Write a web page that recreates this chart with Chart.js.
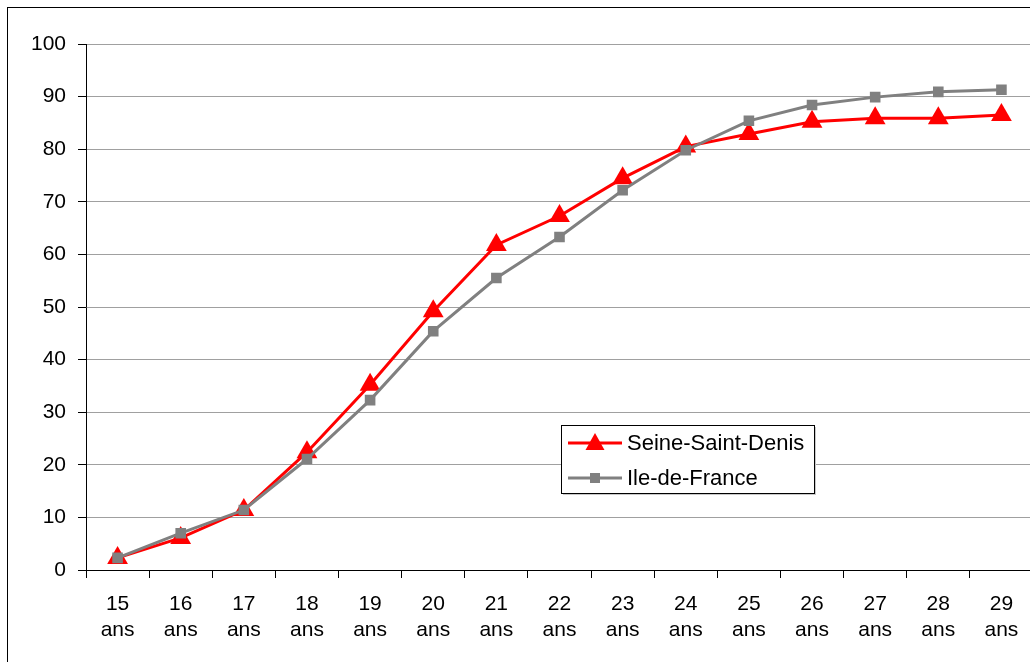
<!DOCTYPE html>
<html>
<head>
<meta charset="utf-8">
<script src="https://cdn.jsdelivr.net/npm/chart.js@4.4.0/dist/chart.umd.min.js"></script>
<style>
  html, body { margin: 0; padding: 0; background: #fff; overflow: hidden; }
  #frame { position: absolute; left: 7px; top: 7px; width: 1100px; height: 700px; border: 1px solid #000; }
  #wrap { position: absolute; left: 0; top: 0; width: 1045px; height: 662px; }
</style>
</head>
<body>
<div id="frame"></div>
<div id="wrap"><canvas id="canvas"></canvas></div>
<script>
// ages 15 to 29
var ages = ['15','16','17','18','19','20','21','22','23','24','25','26','27','28','29'];
var seineSaintDenis = [2.3, 6.1, 11.4, 22.4, 35.2, 49.2, 61.8, 67.3, 74.5, 80.5, 82.9, 85.2, 85.9, 85.9, 86.5];
var ileDeFrance = [2.3, 7.0, 11.4, 21.1, 32.3, 45.4, 55.5, 63.3, 72.2, 79.8, 85.4, 88.4, 89.9, 90.9, 91.3];
var yTicks = [0, 10, 20, 30, 40, 50, 60, 70, 80, 90, 100];

var labels = ages.map(function(a){ return [a, 'ans']; });
var fontFamily = '"Liberation Sans", Arial, sans-serif';

// legend drawn inside the plot, like the original
var legendBox = {
    id: 'legendBox',
    afterDraw: function(chart){
        var ctx = chart.ctx;
        var x = 561, y = 425, w = 253, h = 68;
        ctx.save();
        // faint shadow
        ctx.fillStyle = '#c8c8c8';
        ctx.fillRect(x + 2, y + 2, w, h);
        ctx.fillStyle = '#fff';
        ctx.fillRect(x, y, w, h);
        ctx.strokeStyle = '#000';
        ctx.lineWidth = 1;
        ctx.strokeRect(x + 0.5, y + 0.5, w, h);
        ctx.font = '22px ' + fontFamily;
        ctx.textBaseline = 'middle';
        // Seine-Saint-Denis
        var ly = 443;
        ctx.strokeStyle = '#ff0000';
        ctx.lineWidth = 3;
        ctx.beginPath(); ctx.moveTo(568, ly); ctx.lineTo(622, ly); ctx.stroke();
        ctx.fillStyle = '#ff0000';
        ctx.beginPath();
        ctx.moveTo(595, ly - 10); ctx.lineTo(604.5, ly + 7); ctx.lineTo(585.5, ly + 7);
        ctx.closePath(); ctx.fill();
        ctx.fillStyle = '#000';
        ctx.fillText('Seine-Saint-Denis', 627, ly + 1);
        // Ile-de-France
        ly = 478;
        ctx.strokeStyle = '#808080';
        ctx.beginPath(); ctx.moveTo(568, ly); ctx.lineTo(622, ly); ctx.stroke();
        ctx.fillStyle = '#808080';
        ctx.fillRect(590, ly - 5, 10, 10);
        ctx.fillStyle = '#000';
        ctx.fillText('Ile-de-France', 627, ly + 1);
        ctx.restore();
    }
};

const ctx = document.getElementById('canvas').getContext('2d');
const myChart = new Chart(ctx, {
    type: 'line',
    data: {
        labels: labels,
        datasets: [{
            label: 'Ile-de-France',
            data: ileDeFrance,
            borderColor: '#808080',
            backgroundColor: '#808080',
            borderWidth: 3,
            pointStyle: 'rect',
            pointRadius: 7.5,
            pointBorderWidth: 0,
            tension: 0
        },{
            label: 'Seine-Saint-Denis',
            data: seineSaintDenis,
            borderColor: '#ff0000',
            backgroundColor: '#ff0000',
            borderWidth: 3,
            pointStyle: 'triangle',
            pointRadius: 12,
            pointBorderWidth: 0,
            tension: 0
        }]
    },
    options: {
        responsive: true,
        maintainAspectRatio: false,
        animation: false,
        events: [],
        layout: { padding: { left: 0, right: 5, top: 44, bottom: 0 } },
        plugins: {
            legend: { display: false },
            tooltip: { enabled: false }
        },
        scales: {
            x: {
                offset: true,
                grid: {
                    display: true,
                    offset: true,
                    drawOnChartArea: false,
                    drawTicks: true,
                    tickLength: 8,
                    tickColor: '#000'
                },
                border: { display: true, color: '#000', width: 1 },
                ticks: {
                    color: '#000',
                    font: { family: fontFamily, size: 21, lineHeight: 1.2 },
                    padding: 14,
                    maxRotation: 0,
                    autoSkip: false
                },
                afterFit: function(scale){ scale.height = 662 - 570; }
            },
            y: {
                min: 0,
                max: 100,
                afterBuildTicks: function(scale){
                    scale.ticks = yTicks.map(function(v){ return { value: v }; });
                },
                grid: {
                    color: '#a0a0a0',
                    lineWidth: 1,
                    tickLength: 8,
                    tickColor: '#000'
                },
                border: { display: true, color: '#000', width: 1 },
                ticks: {
                    color: '#000',
                    font: { family: fontFamily, size: 21 },
                    padding: 12
                },
                afterFit: function(scale){ scale.width = 86; }
            }
        }
    },
    plugins: [legendBox]
});
</script>
</body>
</html>
